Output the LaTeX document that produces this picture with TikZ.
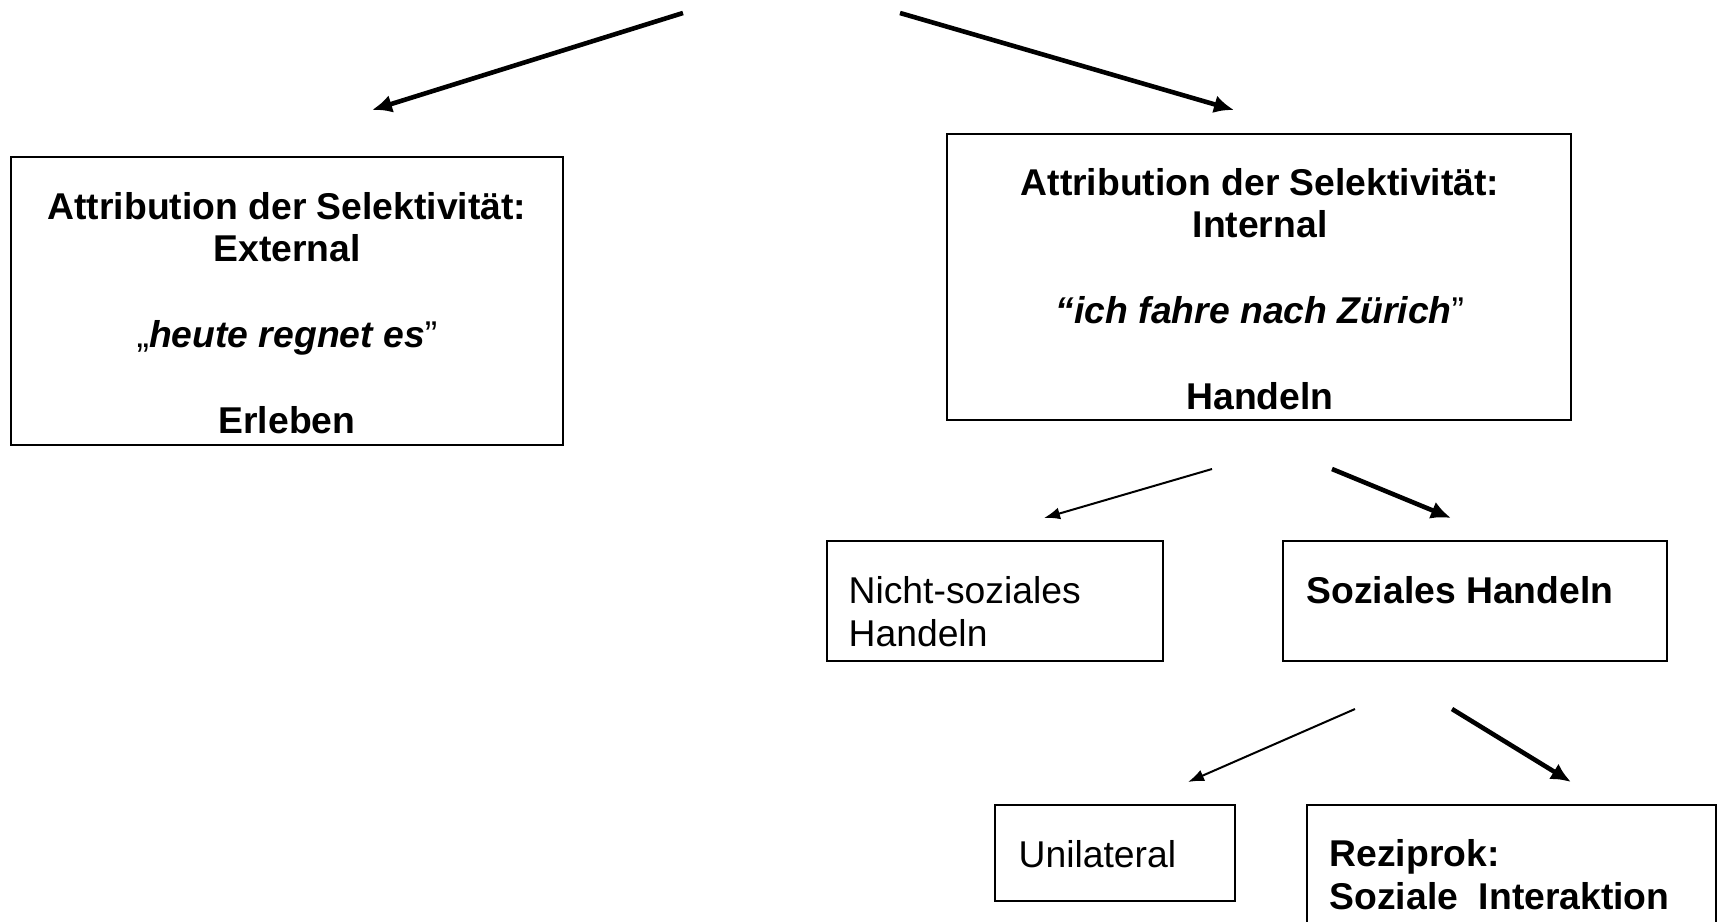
\documentclass[tikz,border=0pt]{standalone}
\usepackage{fontspec}
\setmainfont{Liberation Sans}
\usetikzlibrary{arrows.meta,positioning,calc}

\newcommand{\boxfont}{\fontsize{18.65pt}{21.45pt}\selectfont}

\begin{document}
\begin{tikzpicture}[x=0.5pt, y=-0.5pt, ->, >={Latex[length=8pt,width=6pt]}, semithick]
\tikzset{
  box/.style={draw, line width=1pt, inner sep=0, minimum width=#1},
  txt/.style={inner sep=0, font=\boxfont, align=center},
  thin arrow/.style={line width=1pt},
  thick arrow/.style={line width=2.3pt, >={Latex[length=10pt,width=9pt]}}
}
\useasboundingbox (0,0) rectangle (1717,921);

% boxes
\node[box=276pt,   minimum height=144pt] (ext)     at (287,301)  {};
\node[box=312pt,   minimum height=143pt] (int)     at (1259,277) {};
\node[box=168pt,   minimum height=60pt]  (nicht)   at (995,601)  {};
\node[box=192pt,   minimum height=60pt]  (sozial)  at (1475,601) {};
\node[box=120pt,   minimum height=48pt]  (uni)     at (1115,853) {};
\node[box=204.5pt, minimum height=65pt]  (rezi)    at (1511.5,870) {};

% texts
\node[txt] (exttxt) at (287,313) {\textbf{Attribution der Selektivität:}\\
  \textbf{External}\\[21.45pt]
  „\textbf{\textit{heute regnet es}}”\\[21.45pt]
  \textbf{Erleben}};
\node[txt] (inttxt) at (1260,289) {\textbf{Attribution der Selektivität:}\\
  \textbf{Internal}\\[21.45pt]
  \textbf{\textit{“ich fahre nach Zürich}}”\\[21.45pt]
  \textbf{Handeln}};
\node[txt, align=left, anchor=north west] (nichttxt) at (848,576) {Nicht-soziales\\Handeln};
\node[txt, anchor=base west] (sozialtxt) at (1306,603) {\textbf{Soziales Handeln}};
\node[txt, anchor=base west] (unitxt) at (1018,867) {Unilateral};
\node[txt, align=left, anchor=north west] (rezitxt) at (1329,839) {\textbf{Reziprok:}\\\textbf{Soziale~ Interaktion}};

% arrow ends
\coordinate (top l)  at (683,13);
\coordinate (top r)  at (900,13);
\coordinate (ext in) at (372,110);
\coordinate (int in) at (1234,110);
\coordinate (int l)  at (1212,469);
\coordinate (int r)  at (1332,469);
\coordinate (nicht in)  at (1044,518);
\coordinate (sozial in) at (1451,518);
\coordinate (sozial l)  at (1355,709);
\coordinate (sozial r)  at (1452,709);
\coordinate (uni in)    at (1188,782);
\coordinate (rezi in)   at (1571,782);

\draw[thick arrow] (top l) -- (ext in);
\draw[thick arrow] (top r) -- (int in);
\draw[thin arrow]  (int l) -- (nicht in);
\draw[thick arrow] (int r) -- (sozial in);
\draw[thin arrow]  (sozial l) -- (uni in);
\draw[thick arrow] (sozial r) -- (rezi in);
\end{tikzpicture}
\end{document}
